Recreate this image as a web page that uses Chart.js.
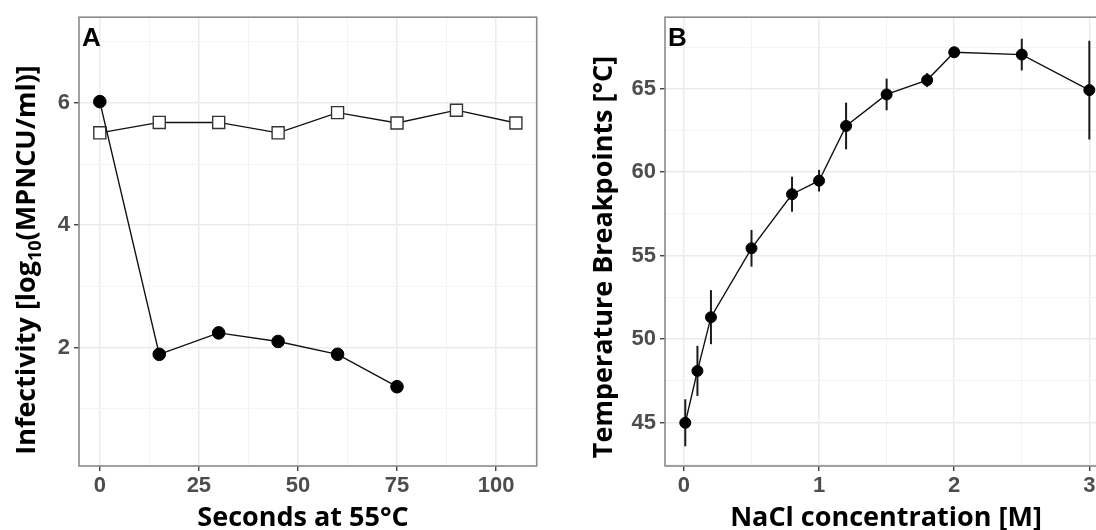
<!DOCTYPE html>
<html>
<head>
<meta charset="utf-8">
<script src="https://cdn.jsdelivr.net/npm/chart.js@4.4.0/dist/chart.umd.min.js"></script>
<style>
html, body { margin: 0; padding: 0; background: #fff; overflow: hidden; width: 1096px; height: 530px; }
#wrapA { position: absolute; left: 0; top: 0; width: 560px; height: 530px; }
#wrapB { position: absolute; left: 560px; top: 0; width: 570px; height: 530px; }
</style>
</head>
<body>
<div id="wrapA"><canvas id="chartA" width="560" height="530"></canvas></div>
<div id="wrapB"><canvas id="chartB" width="570" height="530"></canvas></div>
<script>
'use strict';

// panel A: infectivity vs. time at 55 C
var secs = [0, 15, 30, 45, 60, 75, 90, 105];
var infectControl = [5.51, 5.68, 5.68, 5.51, 5.84, 5.67, 5.88, 5.67];
var infectHeated = [6.02, 1.89, 2.24, 2.10, 1.89, 1.36];
var xTicksA = [0, 25, 50, 75, 100];
var xMinorA = [12.5, 37.5, 62.5, 87.5];
var yTicksA = [2, 4, 6];
var yMinorA = [1, 3, 5, 7];

// panel B: temperature breakpoints vs. NaCl
var nacl = [0.01, 0.1, 0.2, 0.5, 0.8, 1.0, 1.2, 1.5, 1.8, 2.0, 2.5, 3.0];
var breakpoint = [44.98, 48.09, 51.31, 55.44, 58.68, 59.49, 62.77, 64.66, 65.52, 67.19, 67.05, 64.92];
var breakpointErr = [1.41, 1.5, 1.62, 1.1, 1.05, 0.65, 1.4, 0.95, 0.42, 0.2, 0.95, 2.96];
var xTicksB = [0, 1, 2, 3];
var xMinorB = [0.5, 1.5, 2.5];
var yTicksB = [45, 50, 55, 60, 65];
var yMinorB = [42.5, 47.5, 52.5, 57.5, 62.5, 67.5];

var TITLE_SIZE = 27;

function isIn(list, v) {
  return list.some(function (m) { return Math.abs(m - v) < 1e-9; });
}

function makeAxis(min, max, major, minor, size, isX) {
  var all = major.concat(minor).sort(function (a, b) { return a - b; });
  return {
    type: 'linear',
    min: min,
    max: max,
    afterBuildTicks: function (scale) {
      scale.ticks = all.map(function (v) { return { value: v }; });
    },
    afterFit: function (scale) {
      if (isX) scale.height = size; else scale.width = size;
    },
    ticks: {
      autoSkip: false,
      maxRotation: 0,
      padding: isX ? 2 : 4,
      color: '#4d4d4d',
      font: { family: 'Liberation Sans', size: 22, weight: 'bold' },
      callback: function (v) { return isIn(major, v) ? String(v) : ''; }
    },
    grid: {
      color: function (c) { return isIn(major, c.tick.value) ? '#ebebeb' : '#f4f4f4'; },
      lineWidth: function (c) { return isIn(major, c.tick.value) ? 1.5 : 1; },
      tickLength: 5,
      tickWidth: 1.3,
      tickColor: function (c) { return isIn(major, c.tick.value) ? '#333333' : 'rgba(0,0,0,0)'; }
    },
    border: { display: false }
  };
}

var panelFrame = {
  id: 'panelFrame',
  beforeDatasetsDraw: function (chart) {
    var a = chart.chartArea, c = chart.ctx;
    c.save();
    c.strokeStyle = '#8a8a8a';
    c.lineWidth = 1.6;
    c.strokeRect(a.left, a.top, a.right - a.left, a.bottom - a.top);
    c.restore();
  }
};

// draws text parts centred on the origin; parts flagged 1 are subscripts
function drawRich(c, parts) {
  var fontFor = function (p) { return 'bold ' + (p[1] ? 18 : TITLE_SIZE) + 'px "Open Sans"'; };
  var w = 0;
  parts.forEach(function (p) { c.font = fontFor(p); w += c.measureText(p[0]).width; });
  var x = -w / 2;
  var base = TITLE_SIZE * 0.36;
  parts.forEach(function (p) {
    c.font = fontFor(p);
    c.fillText(p[0], x, base + (p[1] ? 6 : 0));
    x += c.measureText(p[0]).width;
  });
}

var panelText = {
  id: 'panelText',
  afterDraw: function (chart, args, o) {
    var c = chart.ctx, a = chart.chartArea;
    c.save();
    c.fillStyle = '#000';
    c.font = 'bold 26px "Liberation Sans"';
    c.textBaseline = 'alphabetic';
    c.fillText(o.tag, a.left + 3, a.top + 29);
    c.textAlign = 'left';
    c.save();
    c.translate(o.xTitleAt[0], o.xTitleAt[1]);
    drawRich(c, o.xTitle);
    c.restore();
    c.translate(o.yTitleAt[0], o.yTitleAt[1]);
    c.rotate(-Math.PI / 2);
    drawRich(c, o.yTitle);
    c.restore();
  }
};

var errorBars = {
  id: 'errorBars',
  beforeDatasetsDraw: function (chart) {
    var xs = chart.scales.x, ys = chart.scales.y, c = chart.ctx;
    c.save();
    c.strokeStyle = '#1a1a1a';
    c.lineWidth = 2;
    nacl.forEach(function (x, i) {
      var px = xs.getPixelForValue(x);
      c.beginPath();
      c.moveTo(px, ys.getPixelForValue(breakpoint[i] - breakpointErr[i]));
      c.lineTo(px, ys.getPixelForValue(breakpoint[i] + breakpointErr[i]));
      c.stroke();
    });
    c.restore();
  }
};

new Chart(document.getElementById('chartA'), {
  type: 'line',
  data: {
    datasets: [{
      data: infectHeated.map(function (y, i) { return { x: secs[i], y: y }; }),
      borderColor: '#111',
      borderWidth: 1.4,
      pointRadius: 6.3,
      pointBackgroundColor: '#000',
      pointBorderColor: '#000',
      pointBorderWidth: 1
    }, {
      data: infectControl.map(function (y, i) { return { x: secs[i], y: y }; }),
      borderColor: '#111',
      borderWidth: 1.4,
      pointStyle: 'rect',
      pointRadius: 8.5,
      pointBackgroundColor: '#fff',
      pointBorderColor: '#333',
      pointBorderWidth: 1.4
    }]
  },
  options: {
    responsive: false,
    animation: false,
    devicePixelRatio: 1,
    layout: { padding: { left: 0, top: 16, right: 23.3, bottom: 0 } },
    scales: {
      x: makeAxis(-5.25, 110.25, xTicksA, xMinorA, 64, true),
      y: makeAxis(0.064, 7.4, yTicksA, yMinorA, 79, false)
    },
    plugins: {
      legend: { display: false },
      tooltip: { enabled: false },
      panelText: {
        tag: 'A',
        xTitle: [['Seconds at 55°C', 0]], xTitleAt: [303, 516],
        yTitle: [['Infectivity [log', 0], ['10', 1], ['(MPNCU/ml)]', 0]], yTitleAt: [25, 260]
      }
    }
  },
  plugins: [panelFrame, panelText]
});

new Chart(document.getElementById('chartB'), {
  type: 'line',
  data: {
    datasets: [{
      data: breakpoint.map(function (y, i) { return { x: nacl[i], y: y }; }),
      borderColor: '#111',
      borderWidth: 1.4,
      pointRadius: 5.5,
      pointBackgroundColor: '#000',
      pointBorderColor: '#000',
      pointBorderWidth: 1
    }]
  },
  options: {
    responsive: false,
    animation: false,
    devicePixelRatio: 1,
    layout: { padding: { left: 0, top: 16, right: 20.4, bottom: 0 } },
    scales: {
      x: makeAxis(-0.14, 3.15, xTicksB, xMinorB, 64, true),
      y: makeAxis(42.39, 69.29, yTicksB, yMinorB, 105, false)
    },
    plugins: {
      legend: { display: false },
      tooltip: { enabled: false },
      panelText: {
        tag: 'B',
        xTitle: [['NaCl concentration [M]', 0]], xTitleAt: [326, 516],
        yTitle: [['Temperature Breakpoints [°C]', 0]], yTitleAt: [42.5, 257]
      }
    }
  },
  plugins: [panelFrame, panelText, errorBars]
});
</script>
</body>
</html>
